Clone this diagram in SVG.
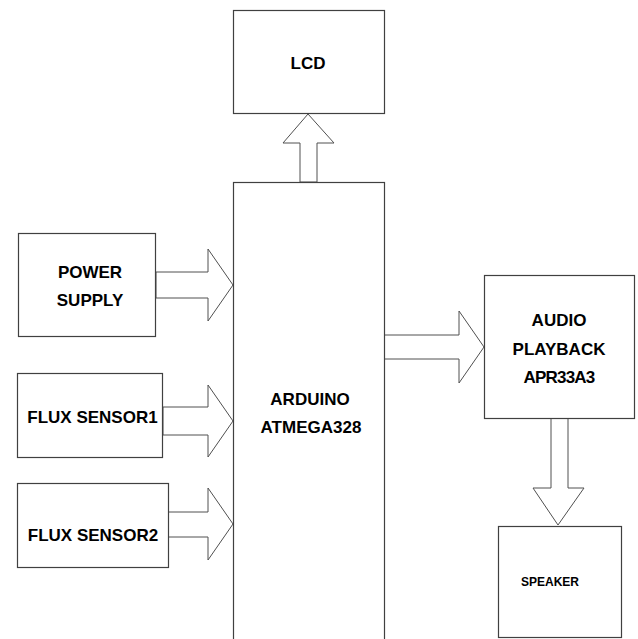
<svg xmlns="http://www.w3.org/2000/svg" width="638" height="639" viewBox="0 0 638 639">
<style>
.box{fill:#fff;stroke:#404040;stroke-width:1.2}
.arr{fill:#fff;stroke:#505050;stroke-width:1}
text{font-family:"Liberation Sans",Arial,sans-serif;font-weight:bold;font-size:17px;fill:#000;text-anchor:middle}
.sm{font-size:12px}
</style>
<rect width="638" height="639" fill="#fff"/>
<g id="connectors">
<polygon class="arr" points="300,182 300,143 283,143 308,114 334,143 317,143 317,182"/>
<polygon class="arr" points="156,272 208,272 208,249 233,285 208,321 208,298 156,298"/>
<polygon class="arr" points="163,407 208,407 208,385 233,421 208,457 208,435 163,435"/>
<polygon class="arr" points="168,512 208,512 208,488 233,524 208,560 208,537 168,537"/>
<polygon class="arr" points="384,335 459,335 459,311 484,347 459,383 459,359 384,359"/>
<polygon class="arr" points="551,418 551,488 533,488 558,525 584,488 568,488 568,418"/>
</g>
<g id="lcd">
<rect class="box" x="233.5" y="10.5" width="151" height="103"/>
<text x="308" y="69">LCD</text>
</g>
<g id="arduino">
<rect class="box" x="233.5" y="182.5" width="151" height="470"/>
<text x="310" y="405">ARDUINO</text>
<text x="311" y="433">ATMEGA328</text>
</g>
<g id="power">
<rect class="box" x="18.5" y="233.5" width="137" height="103"/>
<text x="90" y="278">POWER</text>
<text x="90" y="306">SUPPLY</text>
</g>
<g id="flux1">
<rect class="box" x="17.5" y="373.5" width="145" height="84"/>
<text x="92.5" y="423">FLUX SENSOR1</text>
</g>
<g id="flux2">
<rect class="box" x="17.5" y="483.5" width="151" height="84"/>
<text x="93" y="541">FLUX SENSOR2</text>
</g>
<g id="audio">
<rect class="box" x="484.5" y="275.5" width="150" height="143"/>
<text x="559" y="326">AUDIO</text>
<text x="559" y="355">PLAYBACK</text>
<text x="559" y="383" letter-spacing="-0.8">APR33A3</text>
</g>
<g id="speaker">
<rect class="box" x="498.5" y="526.5" width="123" height="111"/>
<text class="sm" x="550" y="586">SPEAKER</text>
</g>
</svg>
